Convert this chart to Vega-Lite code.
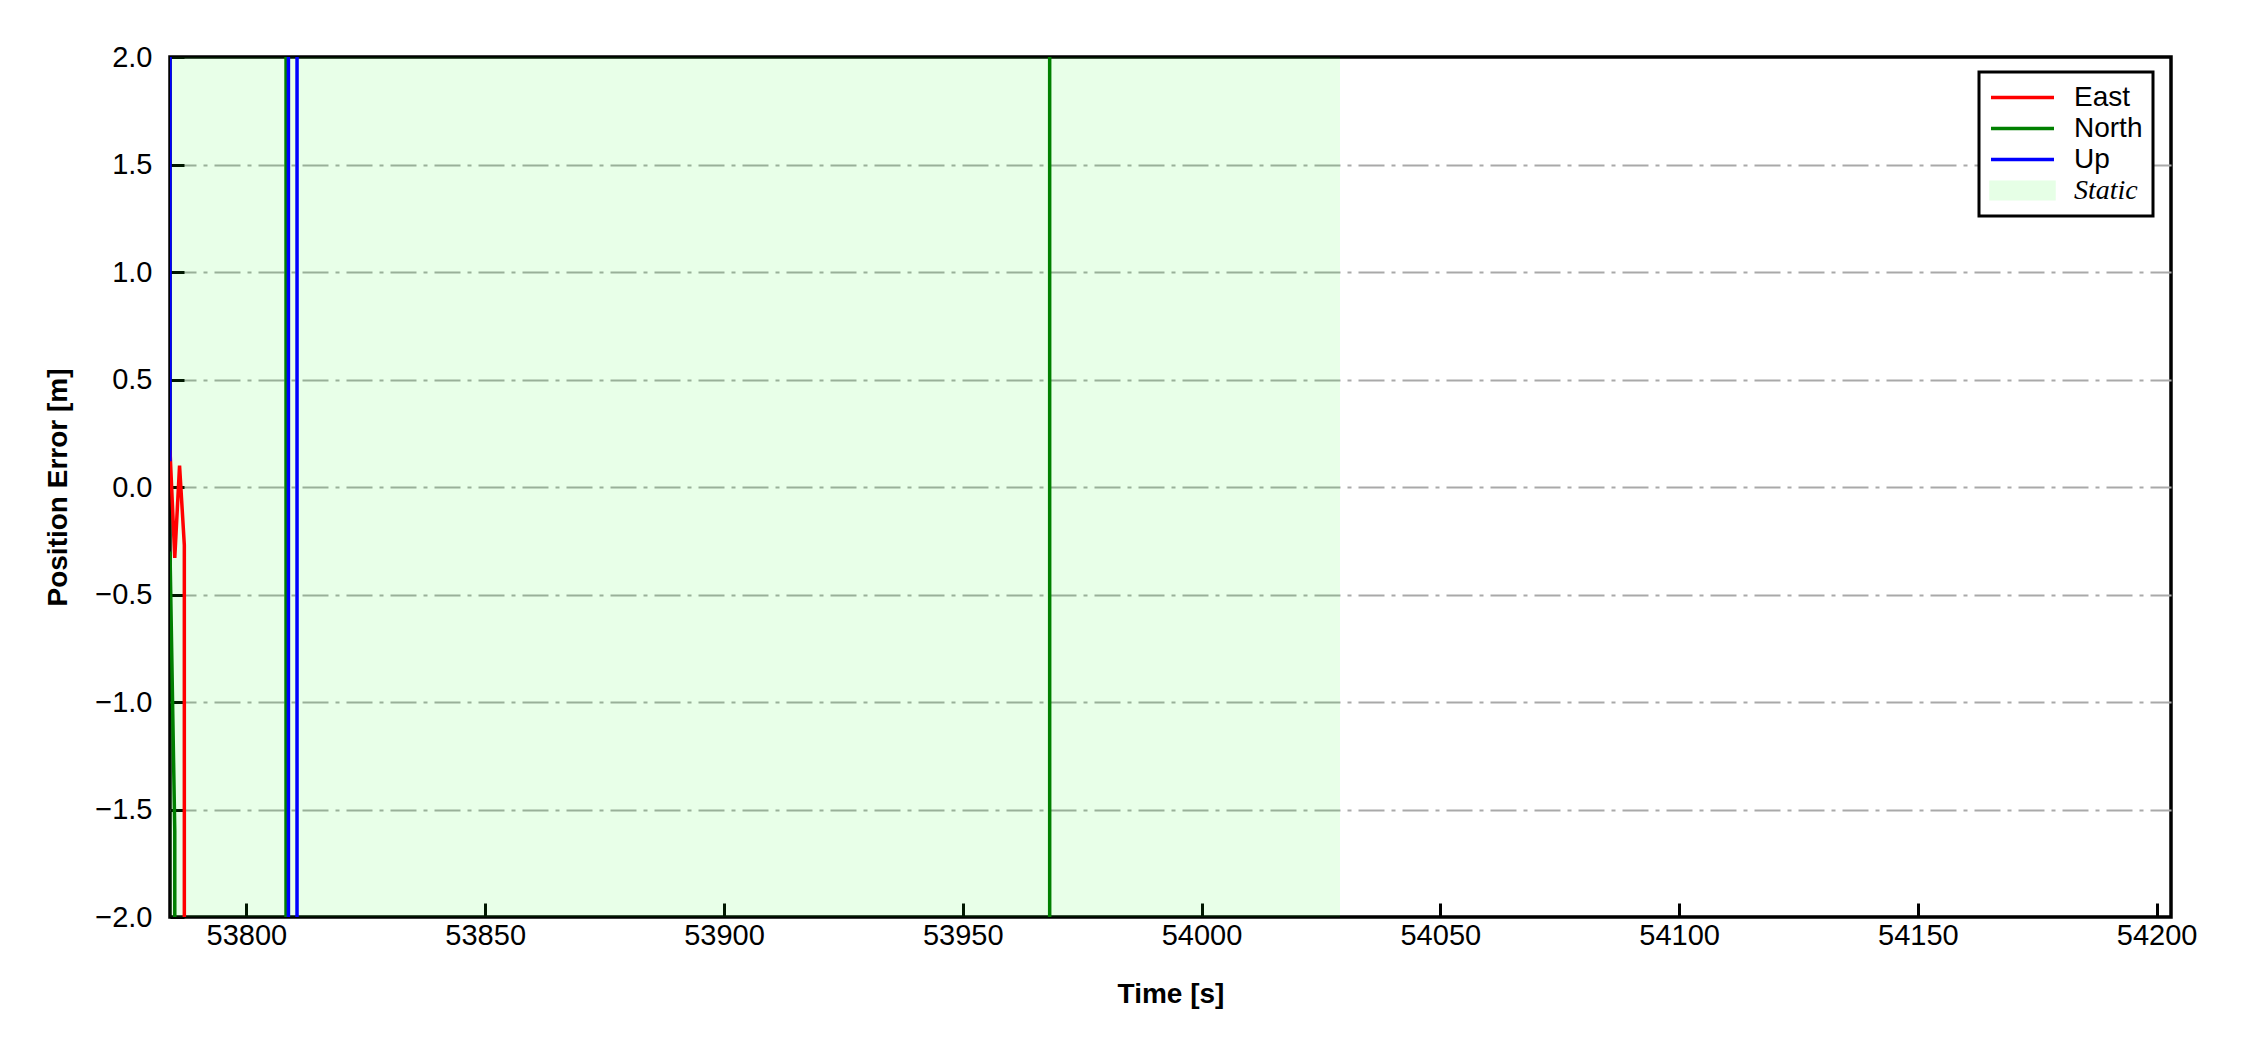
{
  "$schema": "https://vega.github.io/schema/vega-lite/v6.json",
  "width": 2001,
  "height": 860,
  "autosize": {"type": "none"},
  "padding": {"left": 170, "top": 57, "right": 79, "bottom": 133},
  "background": "white",
  "config": {
    "view": {"stroke": "black", "strokeWidth": 3.5},
    "axis": {
      "labelFont": "Liberation Sans",
      "labelFontSize": 29,
      "labelColor": "black",
      "titleFont": "Liberation Sans",
      "titleFontSize": 28,
      "titleFontWeight": "bold",
      "titleColor": "black",
      "tickColor": "black",
      "tickWidth": 3,
      "tickSize": -14,
      "domain": false
    },
    "legend": {
      "strokeColor": "black",
      "strokeWidth": 3,
      "fillColor": "white",
      "cornerRadius": 0,
      "padding": 10
    }
  },
  "datasets": {
    "series": [
      {"t": 53784, "v": 0.17, "s": "East"},
      {"t": 53785, "v": -0.33, "s": "East"},
      {"t": 53786, "v": 0.10, "s": "East"},
      {"t": 53787, "v": -0.27, "s": "East"},
      {"t": 53788, "v": -600, "s": "East"},
      {"t": 54203, "v": -600, "s": "East"},
      {"t": 53784, "v": -0.3, "s": "North"},
      {"t": 53785, "v": -1.6, "s": "North"},
      {"t": 53786, "v": -600, "s": "North"},
      {"t": 53807.8, "v": -600, "s": "North"},
      {"t": 53808.8, "v": 600, "s": "North"},
      {"t": 53967.7, "v": 600, "s": "North"},
      {"t": 53968.7, "v": -600, "s": "North"},
      {"t": 54203, "v": -600, "s": "North"},
      {"t": 53784, "v": 0.12, "s": "Up"},
      {"t": 53785, "v": 600, "s": "Up"},
      {"t": 53808.3, "v": 600, "s": "Up"},
      {"t": 53809.3, "v": -600, "s": "Up"},
      {"t": 53810.1, "v": -600, "s": "Up"},
      {"t": 53811.1, "v": 600, "s": "Up"},
      {"t": 54203, "v": 600, "s": "Up"}
    ],
    "static": [
      {"start": 53784, "end": 54029, "label": "Static"}
    ]
  },
  "layer": [
    {
      "data": {"name": "static"},
      "mark": {"type": "rect", "color": "#00ff00", "opacity": 0.09},
      "encoding": {
        "x": {"field": "start", "type": "quantitative", "scale": {"domain": [53784, 54203], "nice": false, "zero": false}},
        "x2": {"field": "end"}
      }
    },
    {
      "data": {"name": "series"},
      "mark": {"type": "line", "clip": true, "strokeWidth": 3.5},
      "encoding": {
        "x": {
          "field": "t", "type": "quantitative",
          "scale": {"domain": [53784, 54203], "nice": false, "zero": false},
          "axis": {
            "title": "Time [s]",
            "values": [53800, 53850, 53900, 53950, 54000, 54050, 54100, 54150, 54200],
            "format": "d",
            "grid": false,
            "labelPadding": 18,
            "titlePadding": 30
          }
        },
        "y": {
          "field": "v", "type": "quantitative",
          "scale": {"domain": [-2, 2], "nice": false, "zero": false},
          "axis": {
            "title": "Position Error [m]",
            "values": [-2, -1.5, -1, -0.5, 0, 0.5, 1, 1.5, 2],
            "labelExpr": "replace(format(datum.value, '.1f'), '-', '−')",
            "grid": true,
            "gridColor": "#a9a9a9",
            "gridWidth": 2.2,
            "gridDash": [26, 7, 4, 7],
            "gridOpacity": {"condition": {"test": "abs(datum.value) >= 2", "value": 0}, "value": 1},
            "labelPadding": 32,
            "titlePadding": 22
          }
        },
        "color": {
          "field": "s", "type": "nominal",
          "scale": {"domain": ["East", "North", "Up", "Static"], "range": ["#ff0000", "#008000", "#0000ff", "#e6ffe6"]},
          "legend": {
            "orient": "none",
            "legendX": 1809,
            "legendY": 15,
            "title": null,
            "symbolType": "stroke",
            "symbolSize": 3969,
            "symbolStrokeWidth": 3.5,
            "clipHeight": 31,
            "rowPadding": 0,
            "labelOffset": 18,
            "labelFont": "Liberation Sans",
            "labelFontSize": 28,
            "labelColor": "black",
            "encode": {
              "symbols": {"update": {
                "shape": {"signal": "datum.value === 'Static' ? 'M-1,-0.26H1V0.26H-1Z' : 'stroke'"},
                "fill": {"signal": "datum.value === 'Static' ? '#e6ffe6' : 'transparent'"}
              }},
              "labels": {"update": {
                "font": {"signal": "datum.value === 'Static' ? 'Liberation Serif' : 'Liberation Sans'"},
                "fontStyle": {"signal": "datum.value === 'Static' ? 'italic' : 'normal'"}
              }}
            }
          }
        }
      }
    }
  ]
}
